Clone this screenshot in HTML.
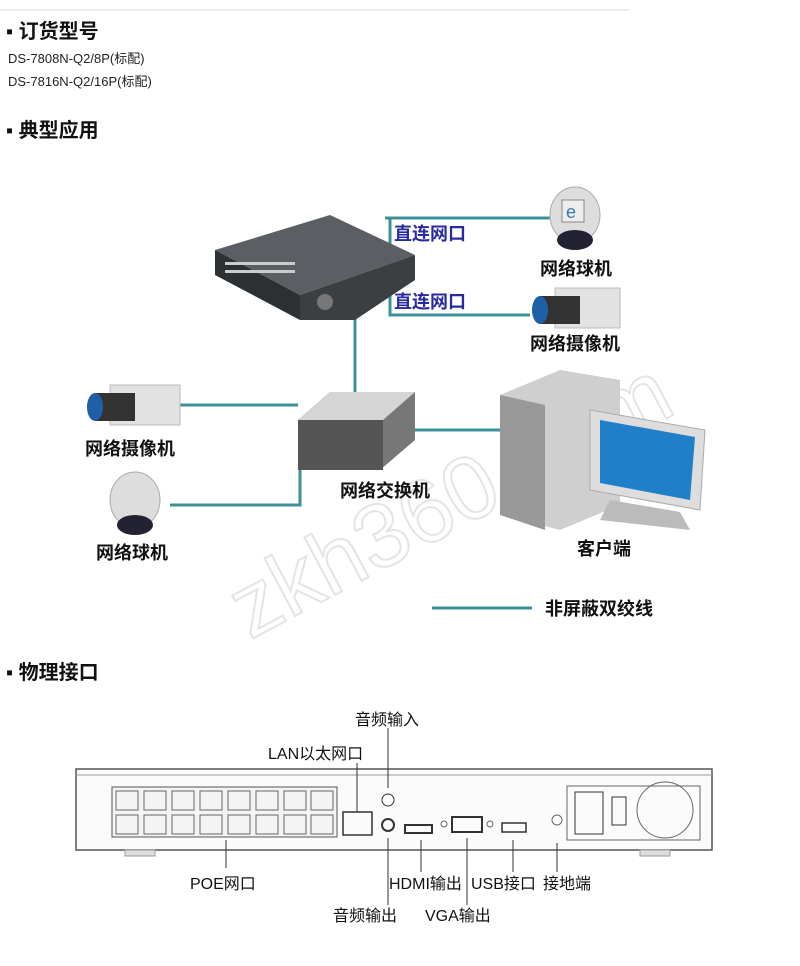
<!DOCTYPE html>
<html><head><meta charset="utf-8"><style>
body{margin:0;background:#fff;}
svg{display:block}
text{font-family:"Liberation Sans","Noto Sans CJK SC",sans-serif;}
</style></head><body>
<svg width="800" height="966" viewBox="0 0 800 966" xmlns="http://www.w3.org/2000/svg">
<line x1="0" y1="10" x2="630" y2="10" stroke="#eee" stroke-width="2"/>
<text x="6" y="38" font-size="20" font-weight="bold" fill="#111">▪ 订货型号</text>
<text x="8" y="63" font-size="13" fill="#222">DS-7808N-Q2/8P(标配)</text>
<text x="8" y="86" font-size="13" fill="#222">DS-7816N-Q2/16P(标配)</text>
<text x="6" y="137" font-size="20" font-weight="bold" fill="#111">▪ 典型应用</text>

<!-- watermark -->
<text x="250" y="640" font-size="90" fill="none" stroke="#e4e4e4" stroke-width="2" transform="rotate(-28 250 640)">zkh360.com</text>

<!-- lines -->
<g stroke="#3c9098" stroke-width="3" fill="none">
<polyline points="385,218 390,218 555,218"/>
<polyline points="390,218 390,315 530,315"/>
<line x1="355" y1="315" x2="355" y2="395"/>
<line x1="180" y1="405" x2="298" y2="405"/>
<polyline points="170,505 300,505 300,450"/>
<line x1="415" y1="430" x2="505" y2="430"/>
<line x1="432" y1="608" x2="532" y2="608"/>
</g>
<!-- NVR -->
<polygon points="215,250 330,215 415,255 300,295" fill="#5b5f63"/>
<polygon points="215,250 300,295 300,320 215,275" fill="#2d3033"/>
<polygon points="300,295 415,255 415,280 355,320 300,320" fill="#3c3f42"/>
<g fill="#ccc"><rect x="225" y="262" width="70" height="3"/><rect x="225" y="270" width="70" height="3"/></g>
<circle cx="325" cy="302" r="8" fill="#777"/>
<text x="394" y="240" font-size="18" font-weight="bold" fill="#2a2aa0">直连网口</text>
<text x="394" y="308" font-size="18" font-weight="bold" fill="#2a2aa0">直连网口</text>

<!-- dome top right -->
<ellipse cx="575" cy="215" rx="25" ry="28" fill="#ddd" stroke="#aaa"/>
<rect x="562" y="200" width="22" height="22" fill="#eee" stroke="#888"/>
<text x="566" y="218" font-size="18" fill="#3a7ab8">e</text>
<ellipse cx="575" cy="240" rx="18" ry="10" fill="#223"/>
<text x="540" y="275" font-size="18" font-weight="bold" fill="#111">网络球机</text>
<!-- box camera right -->
<rect x="555" y="288" width="65" height="40" fill="#e2e2e2" stroke="#bbb"/>
<rect x="540" y="296" width="40" height="28" fill="#333"/>
<ellipse cx="540" cy="310" rx="8" ry="14" fill="#1f5fa8"/>
<text x="530" y="350" font-size="18" font-weight="bold" fill="#111">网络摄像机</text>

<!-- left camera -->
<rect x="110" y="385" width="70" height="40" fill="#e2e2e2" stroke="#bbb"/>
<rect x="95" y="393" width="40" height="28" fill="#333"/>
<ellipse cx="95" cy="407" rx="8" ry="14" fill="#1f5fa8"/>
<text x="85" y="455" font-size="18" font-weight="bold" fill="#111">网络摄像机</text>
<!-- left dome -->
<ellipse cx="135" cy="500" rx="25" ry="28" fill="#ddd" stroke="#aaa"/>
<ellipse cx="135" cy="525" rx="18" ry="10" fill="#223"/>
<text x="96" y="559" font-size="18" font-weight="bold" fill="#111">网络球机</text>

<!-- switch -->
<polygon points="298,420 330,392 415,392 415,440 380,470 298,470" fill="#777"/>
<polygon points="298,420 383,420 415,392 330,392" fill="#d5d5d5"/>
<polygon points="298,420 383,420 383,470 298,470" fill="#555"/>
<text x="340" y="497" font-size="18" font-weight="bold" fill="#111">网络交换机</text>

<!-- PC -->
<polygon points="500,395 560,370 620,380 620,505 560,530 500,515" fill="#cfcfcf"/>
<polygon points="500,395 545,405 545,530 500,515" fill="#999"/>
<polygon points="590,410 705,430 700,510 590,490" fill="#ddd" stroke="#aaa"/>
<polygon points="600,420 695,437 690,500 600,483" fill="#1f7fc8"/>
<polygon points="610,500 680,512 690,530 600,520" fill="#bbb"/>
<text x="577" y="555" font-size="18" font-weight="bold" fill="#111">客户端</text>

<text x="545" y="615" font-size="18" font-weight="bold" fill="#111">非屏蔽双绞线</text>

<text x="6" y="679" font-size="20" font-weight="bold" fill="#111">▪ 物理接口</text>

<!-- rear panel -->
<rect x="76" y="769" width="636" height="81" fill="#fbfbfb" stroke="#555" stroke-width="1.5"/>
<line x1="76" y1="775" x2="712" y2="775" stroke="#999"/>
<rect x="125" y="850" width="30" height="6" fill="#ddd" stroke="#999"/>
<rect x="640" y="850" width="30" height="6" fill="#ddd" stroke="#999"/>
<rect x="112" y="787" width="225" height="50" fill="#f4f4f4" stroke="#555"/>
<g fill="none" stroke="#666">
<rect x="116" y="791" width="22" height="19"/><rect x="144" y="791" width="22" height="19"/><rect x="172" y="791" width="22" height="19"/><rect x="200" y="791" width="22" height="19"/><rect x="228" y="791" width="22" height="19"/><rect x="256" y="791" width="22" height="19"/><rect x="284" y="791" width="22" height="19"/><rect x="311" y="791" width="22" height="19"/>
<rect x="116" y="815" width="22" height="19"/><rect x="144" y="815" width="22" height="19"/><rect x="172" y="815" width="22" height="19"/><rect x="200" y="815" width="22" height="19"/><rect x="228" y="815" width="22" height="19"/><rect x="256" y="815" width="22" height="19"/><rect x="284" y="815" width="22" height="19"/><rect x="311" y="815" width="22" height="19"/>
<rect x="343" y="812" width="29" height="23" stroke="#333" stroke-width="1.5"/>
<circle cx="388" cy="800" r="6" stroke="#333"/><circle cx="388" cy="825" r="6" stroke="#333" stroke-width="2"/>
<rect x="405" y="825" width="27" height="8" stroke="#333" stroke-width="2"/>
<rect x="452" y="817" width="30" height="15" stroke="#333" stroke-width="2"/>
<circle cx="444" cy="824" r="3"/><circle cx="490" cy="824" r="3"/>
<rect x="502" y="823" width="24" height="9" stroke="#333" stroke-width="1.5"/>
<circle cx="557" cy="820" r="5"/>
<rect x="567" y="786" width="133" height="54"/>
<rect x="575" y="792" width="28" height="42" stroke="#333"/>
<rect x="612" y="797" width="14" height="28" stroke="#333"/>
<circle cx="665" cy="810" r="28"/>
</g>
<g stroke="#333" stroke-width="1">
<line x1="388" y1="728" x2="388" y2="788"/>
<line x1="357" y1="763" x2="357" y2="812"/>
<line x1="226" y1="840" x2="226" y2="868"/>
<line x1="388" y1="838" x2="388" y2="905"/>
<line x1="421" y1="840" x2="421" y2="872"/>
<line x1="467" y1="838" x2="467" y2="905"/>
<line x1="513" y1="840" x2="513" y2="872"/>
<line x1="557" y1="843" x2="557" y2="872"/>
</g>
<text x="355" y="725" font-size="16" fill="#111">音频输入</text>
<text x="268" y="759" font-size="16" fill="#111">LAN以太网口</text>
<text x="190" y="889" font-size="16" fill="#111">POE网口</text>
<text x="389" y="889" font-size="16" fill="#111">HDMI输出</text>
<text x="471" y="889" font-size="16" fill="#111">USB接口</text>
<text x="543" y="889" font-size="16" fill="#111">接地端</text>
<text x="333" y="921" font-size="16" fill="#111">音频输出</text>
<text x="425" y="921" font-size="16" fill="#111">VGA输出</text>
</svg>
</body></html>
